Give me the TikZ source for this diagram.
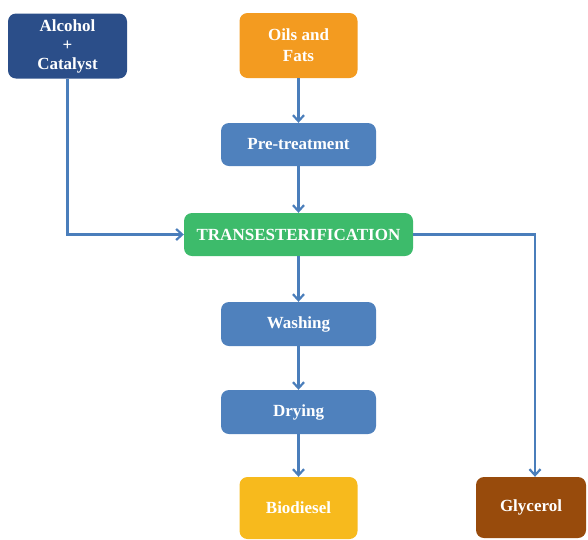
\documentclass[tikz,border=0pt]{standalone}
\usepackage{fontspec}
\setmainfont{Liberation Serif}
\usepackage{xcolor}
\usetikzlibrary{arrows.meta,positioning}
\definecolor{navybox}{HTML}{2B4E89}
\definecolor{orangebox}{HTML}{F39B20}
\definecolor{stepblue}{HTML}{4F81BD}
\definecolor{greenbox}{HTML}{3DBB6B}
\definecolor{goldbox}{HTML}{F7BA1D}
\definecolor{brownbox}{HTML}{984B0C}
\definecolor{linkblue}{HTML}{4A7EBB}

\begin{document}
\begin{tikzpicture}[x=1pt, y=-1pt,
  procbox/.style={rectangle, rounded corners=8pt, draw=none, text=white,
                  font=\fontsize{17}{20.5}\selectfont\bfseries, align=center,
                  inner sep=0pt},
  fwd/.style={-{Straight Barb[length=6pt, width=11pt, line width=2.2pt]},
              line width=2.4pt, linkblue}
]
\useasboundingbox (0,0) rectangle (588,539);

%--- Inputs ---
\node[procbox, fill=navybox, minimum width=119pt, minimum height=65pt,
      font=\fontsize{17}{19}\selectfont\bfseries]
  (alc) at (67.5,46) {Alcohol\\+\\Catalyst};
\node[procbox, fill=orangebox, minimum width=118pt, minimum height=65pt,
      font=\fontsize{17}{21}\selectfont\bfseries]
  (oils) at (298.5,45.5) {Oils and\\Fats};

%--- Process steps ---
\node[procbox, fill=stepblue, minimum width=155pt, minimum height=43pt]
  (pre) at (298.5,144.5) {Pre-treatment};
\node[procbox, fill=greenbox, minimum width=229pt, minimum height=43pt]
  (trans) at (298.5,234.5) {TRANSESTERIFICATION};
\node[procbox, fill=stepblue, minimum width=155pt, minimum height=44pt]
  (wash) at (298.5,324) {Washing};
\node[procbox, fill=stepblue, minimum width=155pt, minimum height=44pt]
  (dry) at (298.5,412) {Drying};

%--- Products ---
\node[procbox, fill=goldbox, minimum width=118pt, minimum height=62pt]
  (bio) at (298.5,508) {Biodiesel};
\node[procbox, fill=brownbox, minimum width=110pt, minimum height=61pt]
  (gly) at (531,507.5) {Glycerol};

%--- Connectors ---
\draw[fwd] (oils) -- (pre);
\draw[fwd] (pre) -- (trans);
\draw[fwd] (alc.south) |- (trans.west);
\draw[fwd] (trans.east) -| ([xshift=4pt]gly.north);
\draw[fwd] (trans) -- (wash);
\draw[fwd] (wash) -- (dry);
\draw[fwd] (dry) -- (bio);

\end{tikzpicture}
\end{document}
